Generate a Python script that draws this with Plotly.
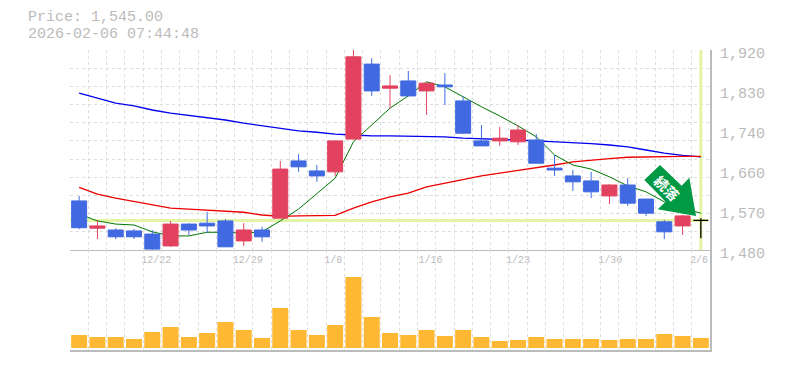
import plotly.graph_objects as go

W, H = 785, 370
BODY = 8  # the page's default body margin
L, R, T, B = 70, 710, 50, 350

opens = [1588,1528,1524,1522,1515,1489,1537,1539,1544,1500,1524,1550,1676,1654,1652,1724,1889,1836,1852,1830,1843,1808,1720,1720,1718,1722,1660,1643,1632,1599,1623,1592,1542,1533,1545]
highs = [1599,1546,1528,1526,1524,1544,1539,1564,1548,1539,1531,1676,1691,1667,1720,1920,1902,1865,1874,1847,1869,1817,1755,1751,1755,1735,1689,1656,1652,1625,1638,1592,1546,1557,1550]
lows = [1526,1504,1504,1504,1480,1487,1513,1517,1487,1489,1498,1550,1652,1630,1643,1724,1819,1792,1819,1777,1799,1735,1709,1709,1711,1671,1643,1610,1594,1581,1577,1555,1504,1513,1506]
closes = [1529,1533,1509,1509,1482,1537,1524,1533,1487,1524,1509,1658,1663,1643,1720,1905,1830,1841,1819,1847,1839,1737,1709,1726,1744,1671,1656,1630,1608,1623,1583,1561,1520,1555,1545]
ma_short = [1559,1544,1537,1535,1520,1511,1511,1519,1519,1517,1520,1544,1570,1605,1638,1718,1755,1792,1819,1850,1839,1817,1795,1775,1753,1729,1689,1667,1658,1641,1621,1608,1586,1572,1561]
ma_mid = [1618,1603,1594,1587,1579,1572,1570,1568,1566,1563,1557,1554,1555,1555,1556,1572,1586,1597,1605,1619,1627,1635,1643,1649,1655,1660,1667,1674,1678,1681,1684,1685,1685,1686,1686]
ma_long = [1825,1814,1803,1797,1788,1781,1776,1771,1766,1759,1753,1747,1742,1739,1735,1733,1731,1731,1730,1730,1729,1726,1725,1724,1722,1720,1718,1717,1714,1711,1707,1700,1693,1688,1685]
volumes = [1300,1100,1100,900,1600,2100,1100,1500,2600,1800,1000,4000,1800,1300,2300,7100,3100,1500,1300,1800,1200,1800,1100,700,800,1100,900,900,900,800,900,900,1400,1200,1000]
tick_pos = [4.22,9.22,13.9,19.22,24,29.05,33.9]
tick_labels = ["12/22","12/29","1/8","1/16","1/23","1/30","2/6"]
price_ticks = [1480,1568,1656,1744,1832,1920]
price_labels = ["1,480","1,570","1,660","1,740","1,830","1,920"]
last_price = 1545
title_lines = ["Price: 1,545.00","2026-02-06 07:44:48"]

RED = "#E2425F"
BLUE = "#4169E1"
GRID = "#DDDDDD"
AXIS = "#BBBBBB"
LIME = "#E3F5A5"
ORANGE = "#FFB833"
ARROW = "#009944"
MONO = "Liberation Mono"

n = len(closes)
xs = list(range(n))
x_grid = [i - 0.5 for i in range(n + 1)]
y_grid = [1480 + 40 * i for i in range(12)]

def px(x):
    return (x - L) / (R - L)

def py(y):
    return (B - y) / (B - T)

fig = go.Figure()

fig.add_trace(go.Scatter(x=[-0.5, 34.4], y=[last_price, last_price], mode="lines",
                         line=dict(color=LIME, width=3), hoverinfo="skip", showlegend=False))
fig.add_trace(go.Scatter(x=[34, 34], y=[1480, 1920], mode="lines",
                         line=dict(color=LIME, width=3), hoverinfo="skip", showlegend=False))

fig.add_trace(go.Scatter(x=xs, y=ma_long, mode="lines", line=dict(color="#0000EE", width=1.3), showlegend=False))
fig.add_trace(go.Scatter(x=xs, y=ma_mid, mode="lines", line=dict(color="#EE0000", width=1.3), showlegend=False))
fig.add_trace(go.Scatter(x=xs, y=ma_short, mode="lines", line=dict(color="#007700", width=1), showlegend=False))

# candles sit on an overlaying axis so that they are painted above the lines
fig.add_trace(go.Candlestick(
    x=xs[:-1], open=opens[:-1], high=highs[:-1], low=lows[:-1], close=closes[:-1],
    increasing=dict(line=dict(color=RED, width=1), fillcolor=RED),
    decreasing=dict(line=dict(color=BLUE, width=1), fillcolor=BLUE),
    whiskerwidth=0, showlegend=False, yaxis="y3"))
fig.add_trace(go.Candlestick(
    x=xs[-1:], open=opens[-1:], high=highs[-1:], low=lows[-1:], close=closes[-1:],
    increasing=dict(line=dict(color="#000000", width=1.3), fillcolor="#000000"),
    decreasing=dict(line=dict(color="#000000", width=1.3), fillcolor="#000000"),
    whiskerwidth=0, showlegend=False, yaxis="y3"))

fig.add_trace(go.Bar(x=xs, y=volumes, width=0.875, marker=dict(color=ORANGE, line=dict(width=0)),
                     xaxis="x2", yaxis="y2", showlegend=False))

minor_x = dict(tickmode="array", tickvals=x_grid, showgrid=True, gridcolor=GRID,
               griddash="3px,3px", gridwidth=1, ticks="")

annotations = []
for i, line in enumerate(title_lines):
    annotations.append(dict(text=line, xref="paper", yref="paper", x=px(27), y=py(18 + 17 * i),
                            xanchor="left", yanchor="middle", showarrow=False, borderpad=0,
                            font=dict(family=MONO, size=15, color=AXIS)))
for v, lab in zip(price_ticks, price_labels):
    annotations.append(dict(text=lab, xref="paper", yref="y", x=px(718), y=v, yshift=-4,
                            xanchor="left", yanchor="middle", showarrow=False,
                            font=dict(family=MONO, size=15, color=AXIS)))
annotations.append(dict(text="<b>続落</b>", xref="paper", yref="paper", x=px(667), y=py(188),
                        textangle=45, xanchor="center", yanchor="middle", showarrow=False,
                        font=dict(family="Noto Sans CJK JP", size=14, color="#FFFFFF")))

arrow_pts = [(660, 165), (681.7, 185.7), (689.3, 177.7), (696, 216), (657.7, 209.3), (665.7, 201.7), (644.3, 180)]
path = "M " + " L ".join(f"{px(x):.5f},{py(y):.5f}" for x, y in arrow_pts) + " Z"
shapes = [dict(type="path", xref="paper", yref="paper", path=path, fillcolor=ARROW,
               line=dict(width=0), layer="above")]

fig.update_layout(
    width=W - 2 * BODY, height=H - 2 * BODY, autosize=False,
    margin=dict(l=L - BODY, r=W - BODY - R, t=T - BODY, b=H - BODY - B, pad=0),
    paper_bgcolor="#FFFFFF", plot_bgcolor="#FFFFFF",
    boxmode="overlay", boxgap=0.18, boxgroupgap=0, showlegend=False,
    xaxis=dict(domain=[0, 1], anchor="y", range=[-0.5, 34.5], rangeslider=dict(visible=False),
               tickmode="array", tickvals=tick_pos, ticktext=tick_labels, showgrid=False,
               zeroline=False, showline=True, linecolor=AXIS, linewidth=1, ticks="",
               tickfont=dict(family=MONO, size=10, color=AXIS), minor=minor_x),
    yaxis=dict(domain=[1 / 3, 1], anchor="x", side="right", range=[1480, 1920],
               showticklabels=False, showgrid=False, zeroline=False, showline=True,
               linecolor=AXIS, linewidth=1.5, ticks="",
               minor=dict(tickmode="array", tickvals=y_grid, showgrid=True, gridcolor=GRID,
                          griddash="3px,3px", gridwidth=1, ticks="")),
    yaxis3=dict(overlaying="y", anchor="x", side="right", range=[1480, 1920], showticklabels=False,
                showgrid=False, zeroline=False, showline=False, ticks=""),
    xaxis2=dict(domain=[0, 1], anchor="y2", range=[-0.5, 34.5], showticklabels=False, showgrid=False,
                zeroline=False, showline=True, linecolor=AXIS, linewidth=2, ticks="", minor=minor_x),
    yaxis2=dict(domain=[0, 1 / 3], anchor="x2", side="right", range=[-200, 9800],
                showticklabels=False, showgrid=False, zeroline=False, showline=True,
                linecolor=AXIS, linewidth=1.5, ticks=""),
    annotations=annotations, shapes=shapes,
)

fig.write_html("out.html")
